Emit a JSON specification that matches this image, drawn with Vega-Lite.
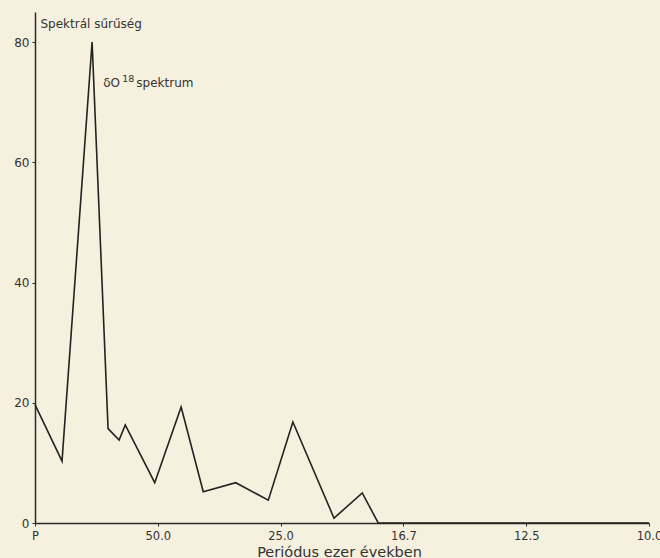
{
  "$schema": "https://vega.github.io/schema/vega-lite/v6.json",
  "autosize": {"type": "none"},
  "width": 614,
  "height": 511,
  "padding": {"left": 35, "top": 12, "right": 11, "bottom": 35},
  "background": "#f6f0de",
  "config": {
    "view": {"stroke": null},
    "font": "DejaVu Sans",
    "axis": {"grid": false, "domainColor": "#2b2b2b", "domainWidth": 1.5, "tickColor": "#2b2b2b", "labelColor": "#333333", "titleColor": "#333333", "labelFont": "DejaVu Sans", "titleFont": "DejaVu Sans", "labelFontSize": 12, "titleFontWeight": "normal"}
  },
  "data": {
    "values": [
      {"f": 0.0, "v": 19.7},
      {"f": 0.0044, "v": 10.3},
      {"f": 0.0093, "v": 80.0},
      {"f": 0.0119, "v": 15.7},
      {"f": 0.0137, "v": 13.8},
      {"f": 0.0147, "v": 16.3},
      {"f": 0.0195, "v": 6.7},
      {"f": 0.0238, "v": 19.3},
      {"f": 0.0274, "v": 5.2},
      {"f": 0.0327, "v": 6.7},
      {"f": 0.0380, "v": 3.8},
      {"f": 0.0420, "v": 16.8},
      {"f": 0.0487, "v": 0.8},
      {"f": 0.0533, "v": 5.0},
      {"f": 0.0559, "v": 0.0},
      {"f": 0.1, "v": 0.0}
    ]
  },
  "layer": [
    {
      "mark": {"type": "line", "color": "#222222", "strokeWidth": 1.6},
      "encoding": {
        "x": {
          "field": "f", "type": "quantitative",
          "scale": {"domain": [0, 0.1], "nice": false},
          "axis": {
            "values": [0, 0.02, 0.04, 0.06, 0.08, 0.1],
            "labelExpr": "datum.value == 0 ? 'P' : format(1/datum.value, '.1f')",
            "labelFlush": false,
            "tickSize": 3,
            "labelPadding": 4,
            "labelFontSize": 11.5,
            "title": "Periódus ezer években",
            "titleFontSize": 14.5,
            "titleBaseline": "alphabetic",
            "titleY": 33,
            "titleX": 304
          }
        },
        "y": {
          "field": "v", "type": "quantitative",
          "scale": {"domain": [0, 85], "nice": false},
          "axis": {
            "values": [0, 20, 40, 60, 80],
            "tickSize": 3,
            "labelPadding": 3,
            "title": "Spektrál sűrűség",
            "titleAngle": 0,
            "titleAlign": "left",
            "titleBaseline": "alphabetic",
            "titleFontSize": 12,
            "titleX": 5,
            "titleY": 15
          }
        }
      }
    },
    {
      "data": {"values": [{"f": 0.0111, "v": 72.5, "t": "δO"}]},
      "mark": {"type": "text", "align": "left", "baseline": "alphabetic", "fontSize": 12, "color": "#333333"},
      "encoding": {"x": {"field": "f", "type": "quantitative"}, "y": {"field": "v", "type": "quantitative"}, "text": {"field": "t"}}
    },
    {
      "data": {"values": [{"f": 0.0142, "v": 73.3, "t": "18"}]},
      "mark": {"type": "text", "align": "left", "baseline": "alphabetic", "fontSize": 9.5, "color": "#333333"},
      "encoding": {"x": {"field": "f", "type": "quantitative"}, "y": {"field": "v", "type": "quantitative"}, "text": {"field": "t"}}
    },
    {
      "data": {"values": [{"f": 0.0165, "v": 72.5, "t": "spektrum"}]},
      "mark": {"type": "text", "align": "left", "baseline": "alphabetic", "fontSize": 12, "color": "#333333"},
      "encoding": {"x": {"field": "f", "type": "quantitative"}, "y": {"field": "v", "type": "quantitative"}, "text": {"field": "t"}}
    }
  ]
}
